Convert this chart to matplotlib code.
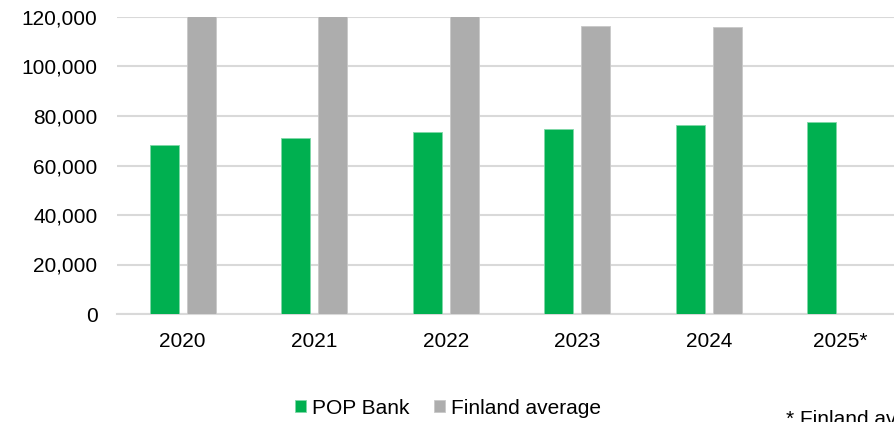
import matplotlib.pyplot as plt
import numpy as np

plt.rcParams['font.family'] = ['Liberation Sans', 'DejaVu Sans']

years = ["2020", "2021", "2022", "2023", "2024", "2025*"]
pop_bank = [68300, 71100, 73400, 74700, 76400, 77600]
# 2020-2022 run past the top of the axis in the source, values are estimates
finland_avg = [124000, 125000, 126000, 116400, 115800, np.nan]

green = "#00b050"
grey = "#adadad"

fig = plt.figure(figsize=(8.94, 4.22), dpi=100)
# axis runs off the right edge like the cropped original
ax = fig.add_axes([117 / 894, 1 - 314 / 422, 789 / 894, 297 / 422])

x = np.arange(len(years))
w = 0.22
ax.bar(x - 0.14, pop_bank, w, color=green, edgecolor="#7fd8a7", linewidth=0.6,
       label="POP Bank", zorder=3)
ax.bar(x + 0.14, finland_avg, w, color=grey, edgecolor="#c8c8c8", linewidth=0.6,
       label="Finland average", zorder=3)

ax.set_xlim(-0.5, len(years) - 0.5)
ax.set_ylim(0, 120000)
ax.set_yticks(range(0, 120001, 20000))
ax.set_yticklabels([f"{v:,}" for v in range(0, 120001, 20000)])
ax.set_xticks(x)
ax.set_xticklabels(years)

ax.grid(axis="y", color="#d9d9d9", linewidth=1.5, zorder=0)
for s in ["top", "right", "left"]:
    ax.spines[s].set_visible(False)
ax.spines["bottom"].set_color("#d9d9d9")
ax.spines["bottom"].set_linewidth(1.5)
ax.tick_params(axis="both", length=0, labelsize=15, colors="black")
ax.tick_params(axis="x", pad=13)
ax.tick_params(axis="y", pad=14)

fig.legend(loc="center", bbox_to_anchor=(448 / 894, 1 - 408 / 422), ncol=2,
           frameon=False, fontsize=15, handlelength=0.5, handleheight=0.5,
           handletextpad=0.3, columnspacing=1.2)

fig.text(786 / 894, 1 - 410 / 422, "* Finland average not available",
         fontsize=15, va="top", ha="left")

fig.savefig("out.png", dpi=100)
